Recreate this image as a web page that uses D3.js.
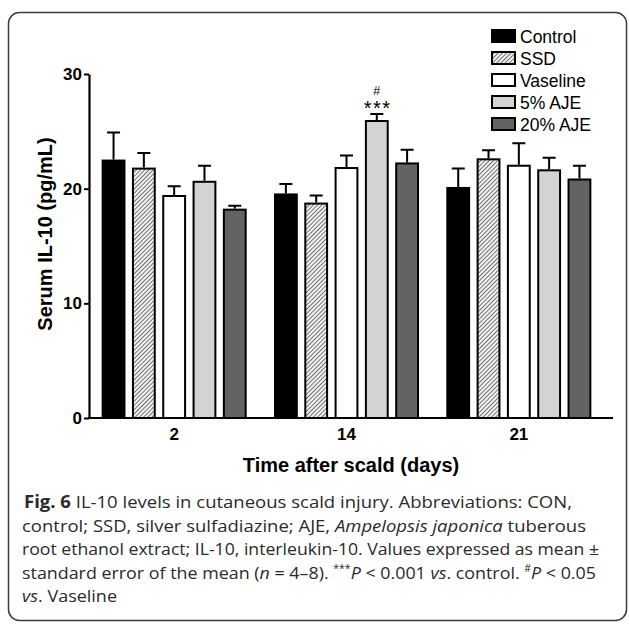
<!DOCTYPE html>
<html>
<head>
<meta charset="utf-8">
<script src="https://cdn.jsdelivr.net/npm/d3@7"></script>
<style>
  html, body { margin: 0; padding: 0; background: #fff; }
  svg { display: block; }
</style>
</head>
<body>
<div id="chart"></div>
<script>
// ---- data ----
const days = ["2", "14", "21"];
const groups = ["Control", "SSD", "Vaseline", "5% AJE", "20% AJE"];
const meanControl = [22.45, 19.5, 20.06];
const meanSSD = [21.75, 18.7, 22.56];
const meanVaseline = [19.36, 21.8, 22.0];
const meanAJE5 = [20.6, 25.9, 21.6];
const meanAJE20 = [18.17, 22.2, 20.8];
const semControl = [2.45, 0.9, 1.7];
const semSSD = [1.35, 0.7, 0.8];
const semVaseline = [0.85, 1.1, 1.95];
const semAJE5 = [1.4, 0.62, 1.1];
const semAJE20 = [0.33, 1.2, 1.2];
const yTicks = [0, 10, 20, 30];
const annotations = [{day: "14", group: "5% AJE", stars: "***", hash: "#"}];
const yTitle = "Serum IL-10 (pg/mL)";
const xTitle = "Time after scald (days)";

const means = [meanControl, meanSSD, meanVaseline, meanAJE5, meanAJE20];
const sems = [semControl, semSSD, semVaseline, semAJE5, semAJE20];
const fills = ["#000000", "url(#hatch)", "#ffffff", "#d3d3d3", "#636363"];

const rows = [];
days.forEach((d, i) => groups.forEach((g, j) => rows.push({day: d, group: g, mean: means[j][i], sem: sems[j][i], fill: fills[j]})));

const W = 629, H = 626;
const svg = d3.select("#chart").append("svg").attr("width", W).attr("height", H);

const defs = svg.append("defs");
const pat = defs.append("pattern").attr("id", "hatch").attr("patternUnits", "userSpaceOnUse")
  .attr("width", 3).attr("height", 3).attr("patternTransform", "rotate(45)");
pat.append("rect").attr("width", 3).attr("height", 3).attr("fill", "#f2f2f2");
pat.append("line").attr("x1", 0).attr("y1", 0).attr("x2", 0).attr("y2", 3)
  .attr("stroke", "#3a3a3a").attr("stroke-width", 1.4);

// frame
svg.append("rect").attr("x", 8.5).attr("y", 12.5).attr("width", 618).attr("height", 608)
  .attr("rx", 11).attr("fill", "none").attr("stroke", "#3c3c3c").attr("stroke-width", 1.5);

const x0 = d3.scaleBand().domain(days).range([88, 605]).paddingInner(0.17).paddingOuter(0.085);
const x1 = d3.scaleBand().domain(groups).range([0, x0.bandwidth()]).paddingInner(0.28).paddingOuter(0);
const y = d3.scaleLinear().domain([0, 30]).range([418, 74]);

const fontChart = "'Liberation Sans', Arial, sans-serif";

// bars
const g = svg.append("g");
g.selectAll("rect.bar").data(rows).join("rect").attr("class", "bar")
  .attr("x", d => x0(d.day) + x1(d.group))
  .attr("width", x1.bandwidth())
  .attr("y", d => y(d.mean))
  .attr("height", d => y(0) - y(d.mean))
  .attr("fill", d => d.fill)
  .attr("stroke", "#000").attr("stroke-width", 2);

// error bars
const cap = 6.5;
g.selectAll("path.err").data(rows).join("path").attr("class", "err")
  .attr("d", d => {
    const cx = x0(d.day) + x1(d.group) + x1.bandwidth() / 2;
    const yt = y(d.mean + d.sem), yb = y(d.mean) - 1;
    return `M${cx},${yb}V${yt}M${cx - cap},${yt}H${cx + cap}`;
  })
  .attr("fill", "none").attr("stroke", "#000").attr("stroke-width", 2);

// axes
const yAxis = d3.axisLeft(y).tickValues(yTicks).tickSize(5).tickPadding(2).tickSizeOuter(0);
const ya = svg.append("g").attr("transform", "translate(89,0)").call(yAxis);
ya.select(".domain").attr("stroke-width", 2.2);
ya.selectAll(".tick line").attr("stroke-width", 2);
ya.selectAll(".tick text").attr("font-family", fontChart).attr("font-size", 17).attr("font-weight", "bold").attr("fill", "#000");

const xAxis = d3.axisBottom(x0).tickSize(0).tickPadding(10).tickSizeOuter(0);
const xa = svg.append("g").attr("transform", "translate(0,418)").call(xAxis);
xa.select(".domain").attr("d", "M88,0H613").attr("stroke-width", 2.2);
xa.selectAll(".tick text").attr("font-family", fontChart).attr("font-size", 17).attr("font-weight", "bold").attr("fill", "#000");

// titles
svg.append("text").attr("x", 351).attr("y", 472).attr("text-anchor", "middle")
  .attr("font-family", fontChart).attr("font-size", 20).attr("font-weight", "bold").text(xTitle);
svg.append("text").attr("transform", "translate(52,234) rotate(-90)").attr("text-anchor", "middle")
  .attr("font-family", fontChart).attr("font-size", 20).attr("font-weight", "bold").text(yTitle);

// annotations
annotations.forEach(a => {
  const row = rows.find(r => r.day === a.day && r.group === a.group);
  const cx = x0(a.day) + x1(a.group) + x1.bandwidth() / 2;
  const top = y(row.mean + row.sem);
  svg.append("text").attr("x", cx + 0.8).attr("y", top + 1).attr("text-anchor", "middle")
    .attr("font-family", fontChart).attr("font-size", 20).attr("letter-spacing", 1.5).text(a.stars);
  svg.append("text").attr("x", cx).attr("y", top - 19).attr("text-anchor", "middle")
    .attr("font-family", fontChart).attr("font-size", 12.5).text(a.hash);
});

// legend
const leg = svg.append("g").attr("transform", "translate(491,29)");
groups.forEach((gname, j) => {
  const row = leg.append("g").attr("transform", `translate(0,${j * 22})`);
  row.append("rect").attr("x", 1).attr("y", 1).attr("width", 23).attr("height", 12)
    .attr("fill", fills[j]).attr("stroke", "#000").attr("stroke-width", 2);
  row.append("text").attr("x", 29).attr("y", 13.5).attr("font-family", fontChart)
    .attr("font-size", 17.5).text(gname);
});

// caption
const cap1 = svg.append("text").attr("x", 24).attr("y", 508).attr("font-family", "'Open Sans', sans-serif").attr("font-size", 17).attr("fill", "#2a2a2a");
cap1.append("tspan").attr("font-weight", "bold").text("Fig. 6");
cap1.append("tspan").text(" IL-10 levels in cutaneous scald injury. Abbreviations: CON,");
cap1.attr("textLength", 548).attr("lengthAdjust", "spacingAndGlyphs");

const cap2 = svg.append("text").attr("x", 22).attr("y", 531.5).attr("font-family", "'Open Sans', sans-serif").attr("font-size", 17).attr("fill", "#2a2a2a");
cap2.append("tspan").text("control; SSD, silver sulfadiazine; AJE, ");
cap2.append("tspan").attr("font-style", "italic").text("Ampelopsis japonica");
cap2.append("tspan").text(" tuberous");
cap2.attr("textLength", 564).attr("lengthAdjust", "spacingAndGlyphs");

const cap3 = svg.append("text").attr("x", 22).attr("y", 555).attr("font-family", "'Open Sans', sans-serif").attr("font-size", 17).attr("fill", "#2a2a2a");
cap3.append("tspan").text("root ethanol extract; IL-10, interleukin-10. Values expressed as mean ±");
cap3.attr("textLength", 577).attr("lengthAdjust", "spacingAndGlyphs");

const cap4 = svg.append("text").attr("x", 22).attr("y", 578.5).attr("font-family", "'Open Sans', sans-serif").attr("font-size", 17).attr("fill", "#2a2a2a");
cap4.append("tspan").text("standard error of the mean (");
cap4.append("tspan").attr("font-style", "italic").text("n");
cap4.append("tspan").text(" = 4–8). ");
cap4.append("tspan").attr("font-size", 10).attr("dy", -7).text("***");
cap4.append("tspan").attr("font-style", "italic").attr("dy", 7).text("P");
cap4.append("tspan").text(" < 0.001 ");
cap4.append("tspan").attr("font-style", "italic").text("vs");
cap4.append("tspan").text(". control. ");
cap4.append("tspan").attr("font-size", 10).attr("dy", -7).text("#");
cap4.append("tspan").attr("font-style", "italic").attr("dy", 7).text("P");
cap4.append("tspan").text(" < 0.05");
cap4.attr("textLength", 574).attr("lengthAdjust", "spacingAndGlyphs");

const cap5 = svg.append("text").attr("x", 22).attr("y", 602).attr("font-family", "'Open Sans', sans-serif").attr("font-size", 17).attr("fill", "#2a2a2a");
cap5.append("tspan").attr("font-style", "italic").text("vs");
cap5.append("tspan").text(". Vaseline");
cap5.attr("textLength", 95).attr("lengthAdjust", "spacingAndGlyphs");
</script>
</body>
</html>
